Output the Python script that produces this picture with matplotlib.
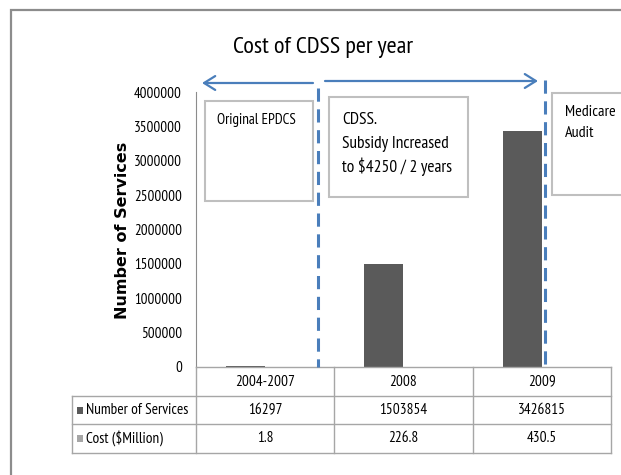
import matplotlib.pyplot as plt
from matplotlib.patches import Rectangle

plt.rcParams['lines.scale_dashes'] = False

# data
periods = ['2004-2007', '2008', '2009']
services = [16297, 1503854, 3426815]
cost_million = [1.8, 226.8, 430.5]
yticks = [0, 500000, 1000000, 1500000, 2000000, 2500000, 3000000, 3500000, 4000000]

FONT = ['PT Sans Narrow', 'Carlito', 'DejaVu Sans']
BLUE = '#4A7EBB'
DARK = '#5A5A5A'
LIGHT = '#A6A6A6'
GRID = '#A6A6A6'

W, H = 621, 475
fig = plt.figure(figsize=(W / 100, H / 100), dpi=100)

# plot area in pixels
x0, x1, yb, yt = 196, 611, 367, 92
ax = fig.add_axes([x0 / W, 1 - yb / H, (x1 - x0) / W, (yb - yt) / H])

n = len(periods)
bw = 0.283
xs = range(n)
ax.bar([x - bw / 2 for x in xs], services, width=bw, color=DARK, zorder=2)
ax.bar([x + bw / 2 for x in xs], cost_million, width=bw, color=LIGHT, zorder=2)

ax.set_xlim(-0.5, n - 0.5)
ax.set_ylim(0, 4000000)
ax.set_yticks(yticks)
ax.set_yticklabels([str(v) for v in yticks], family=FONT, fontsize=10.8)
ax.set_xticks([])
for s in ['top', 'right', 'bottom']:
    ax.spines[s].set_visible(False)
ax.spines['left'].set_color('#8C8C8C')
ax.tick_params(axis='y', length=0, pad=10)
ax.set_ylabel('Number of Services', fontsize=11.5, fontweight='bold',
              family='DejaVu Sans')
ax.yaxis.set_label_coords((130 - x0) / (x1 - x0), (yb - 230) / (yb - yt))
ax.patch.set_alpha(0)

# overlay in pixel coordinates for the table and annotations
ov = fig.add_axes([0, 0, 1, 1], zorder=3)
ov.set_xlim(0, W)
ov.set_ylim(H, 0)
ov.axis('off')
ov.patch.set_alpha(0)

# outer chart frame
ov.plot([11, 11, W], [H, 10, 10], color='#8C8C8C', lw=1.6, solid_joinstyle='miter')

ov.text(323, 53, 'Cost of CDSS per year', ha='center', va='baseline',
        fontsize=17.5, family=FONT)

# data table under the axis
colw = (x1 - x0) / n
rows = [367, 396, 424, 453]
tl = 72
lk = dict(color=GRID, lw=1)
ov.plot([x0, x1], [rows[0], rows[0]], **lk)
for r in rows[1:]:
    ov.plot([tl, x1], [r, r], **lk)
ov.plot([tl, tl], [rows[1], rows[3]], **lk)
for i in range(n + 1):
    ov.plot([x0 + i * colw] * 2, [rows[0], rows[3]], **lk)

for i in range(n):
    cx = x0 + (i + 0.5) * colw
    ov.text(cx, (rows[0] + rows[1]) / 2, periods[i], ha='center', va='center',
            fontsize=11, family=FONT)
    ov.text(cx, (rows[1] + rows[2]) / 2, str(services[i]), ha='center', va='center',
            fontsize=11, family=FONT)
    ov.text(cx, (rows[2] + rows[3]) / 2, str(cost_million[i]), ha='center', va='center',
            fontsize=11, family=FONT)

for (r0, r1), label, col in [((rows[1], rows[2]), 'Number of Services', DARK),
                             ((rows[2], rows[3]), 'Cost ($Million)', LIGHT)]:
    cy = (r0 + r1) / 2
    ov.add_patch(Rectangle((77, cy - 3.5), 6, 7, color=col, lw=0))
    ov.text(86, cy, label, ha='left', va='center', fontsize=11, family=FONT)

# period separators and arrows
for xd, ytop in [(318, 88), (545, 80)]:
    ov.plot([xd, xd], [ytop, 367], color=BLUE, lw=2.2, linestyle=(0, (9.5, 5.5)))

arrow = dict(arrowstyle='->,head_length=0.8,head_width=0.5', color=BLUE, lw=1.6,
             shrinkA=0, shrinkB=0)
ov.annotate('', xy=(202, 83), xytext=(313, 83), arrowprops=arrow)
ov.annotate('', xy=(538, 81), xytext=(325, 81), arrowprops=arrow)

# text boxes: outline, then one text per line
boxes = [
    ((205, 101, 313, 201), ['Original EPDCS'], 217, [120], 10.8),
    ((329, 97, 468, 197), ['CDSS.', 'Subsidy Increased', 'to $4250 / 2 years'],
     342, [120, 143.5, 167], 12.5),
    ((552, 93, 640, 195), ['Medicare', 'Audit'], 565, [112, 133], 11.5),
]
for (bx0, by0, bx1, by1), lines, tx, tys, fs in boxes:
    ov.add_patch(Rectangle((bx0, by0), bx1 - bx0, by1 - by0, facecolor='white',
                           edgecolor='#BFBFBF', lw=1.5, zorder=1))
    for line, ty in zip(lines, tys):
        ov.text(tx, ty, line, ha='left', va='center', fontsize=fs, family=FONT, zorder=2)

fig.savefig('out.png', dpi=100)
